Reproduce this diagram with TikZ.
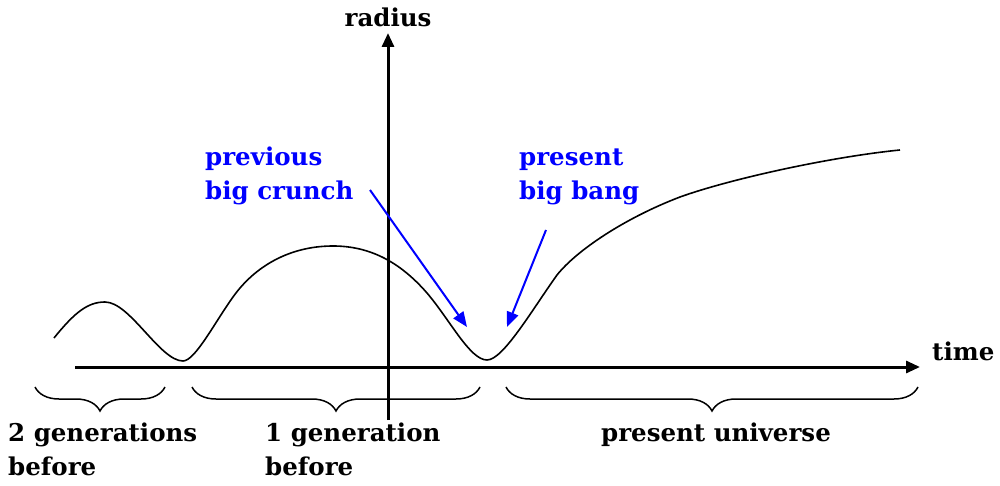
\documentclass[tikz,border=0pt]{standalone}
\usepackage{fontspec}
\setmainfont{DejaVu Serif}
\usetikzlibrary{arrows.meta,decorations.pathreplacing}
\begin{document}
\begin{tikzpicture}[x=1pt,y=-1pt,
  axis/.style={line width=3pt,-{Triangle[length=14pt,width=12pt]}},
  curve/.style={line width=1.6pt},
  bluearrow/.style={blue,line width=2pt,-{Triangle[length=15pt,width=12pt]}},
  lbl/.style={font=\bfseries\fontsize{24.5}{34}\selectfont,inner sep=0pt},
  bluelbl/.style={lbl,text=blue,align=left},
  brc/.style={line width=1.5pt,decorate,decoration={brace,mirror,amplitude=24pt,aspect=0.5}}]
\useasboundingbox (0,0) rectangle (1000,486);
% axes
\coordinate (xs) at (75,367);
\coordinate (xe) at (920,367);
\coordinate (ys) at (388,420);
\coordinate (ye) at (388,33);
\draw[axis] (xs) -- (xe);
\draw[axis] (ys) -- (ye);
\node[lbl,anchor=base] (radius) at (388,27) {radius};
\node[lbl,anchor=base west] (time) at (932,360) {time};
% curve
\coordinate (c0) at (54,338);
\coordinate (p1) at (105,302);
\coordinate (m1) at (183,361);
\coordinate (c1) at (233,297);
\coordinate (p2) at (333,246);
\coordinate (c2) at (427,293);
\coordinate (m2) at (487,360);
\coordinate (c3) at (557,275);
\coordinate (c4) at (680,197);
\coordinate (c5) at (900,150);
\draw[curve] (c0) .. controls (75,312) and (88,302) .. (p1)
  .. controls (130,302) and (160,361) .. (m1)
  .. controls (195,361) and (215,322) .. (c1)
  .. controls (255,266) and (290,246) .. (p2)
  .. controls (370,246) and (400,262) .. (c2)
  .. controls (450,320) and (470,360) .. (m2)
  .. controls (503,360) and (532,310) .. (c3)
  .. controls (577,250) and (625,218) .. (c4)
  .. controls (730,179) and (830,157) .. (c5);
% braces
\coordinate (b1a) at (35,387); \coordinate (b1b) at (165,387);
\coordinate (b2a) at (192,387); \coordinate (b2b) at (480,387);
\coordinate (b3a) at (506,387); \coordinate (b3b) at (918,387);
\draw[brc] (b1a) -- (b1b);
\draw[brc] (b2a) -- (b2b);
\draw[brc] (b3a) -- (b3b);
% bottom labels
\node[lbl,anchor=base west,align=left] (g2) at (8,475) {2 generations\\before};
\node[lbl,anchor=base west,align=left] (g1) at (265,475) {1 generation\\before};
\node[lbl,anchor=base] (pu) at (716,441) {present universe};
% blue labels
\node[bluelbl,anchor=base west] (crunch) at (205,200) {previous\\big crunch};
\node[bluelbl,anchor=base west] (bang) at (519,200) {present\\big bang};
\coordinate (ca) at (370,190); \coordinate (cb) at (467,327);
\coordinate (ba) at (546,230); \coordinate (bb) at (507,327);
\draw[bluearrow] (ca) -- (cb);
\draw[bluearrow] (ba) -- (bb);
\end{tikzpicture}
\end{document}
